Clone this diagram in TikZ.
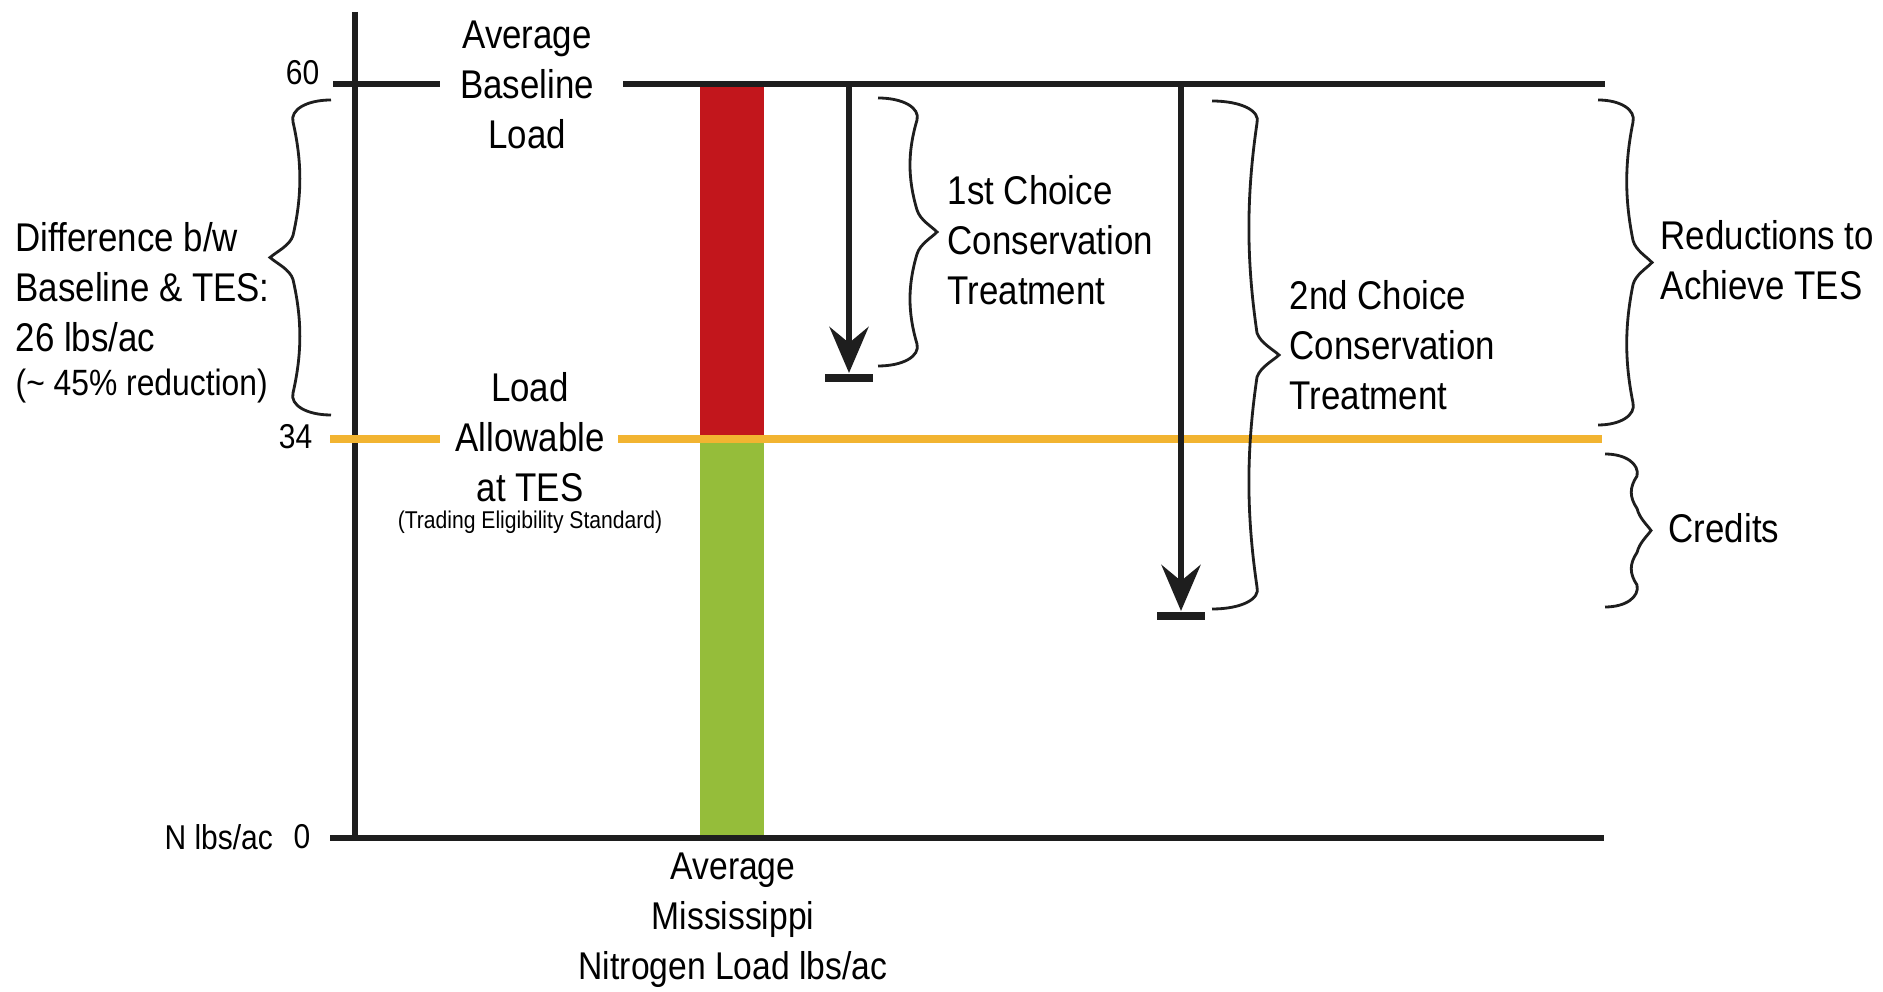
\documentclass[tikz,border=0pt]{standalone}
\usepackage{fontspec}
\setmainfont{Liberation Sans}[FakeStretch=0.87]
\usepackage{tikz}
\usetikzlibrary{arrows.meta,positioning,calc}
\definecolor{cInk}{HTML}{1E1E1E}
\definecolor{cLoad}{HTML}{C2161C}
\definecolor{cOk}{HTML}{95BD3A}
\definecolor{cTes}{HTML}{F2B431}
\tikzset{
  lbl/.style     = {font=\fontsize{11.4}{14.2}\selectfont, align=center, inner sep=0pt},
  side/.style    = {lbl, align=left, anchor=west},
  tick/.style    = {font=\fontsize{9.8}{12}\selectfont, inner sep=0pt, anchor=east},
  inkline/.style = {draw=cInk, line width=1.9pt},
  tesline/.style = {draw=cTes, line width=2.3pt},
  drop/.style    = {inkline, -{Stealth[length=4.6mm, width=3.9mm, inset=1.6mm]}},
  stopbar/.style = {draw=cInk, line width=2.3pt},
  brc/.style     = {draw=cInk, line width=0.8pt},
  % curly brace along a vertical span: #1 = bulge, #2 = tip offset
  vbrace/.style 2 args = {to path={
    ($(\tikztostart)!.5!(\tikztotarget)$) coordinate (bm)
    (\tikztotarget) coordinate (be)
    ($(\tikztostart)+(#1,22)$) coordinate (bp1)
    ($(bm)+(#1,-22)$) coordinate (bp3)
    ($(bm)+(#1,22)$) coordinate (bp4)
    ($(be)+(#1,-22)$) coordinate (bp6)
    ($(bm)+(#2,0)$) coordinate (btip)
    (\tikztostart) .. controls +({0.65*#1},0) and +({0.08*#1},-12) .. (bp1)
    .. controls ($(bp1)!.35!(bp3)+({-0.24*#1},0)$) and ($(bp3)!.35!(bp1)+({-0.24*#1},0)$) .. (bp3)
    .. controls +({0.08*#1},10) and +({-0.3*(#2-#1)},-6) .. (btip)
    .. controls +({-0.3*(#2-#1)},6) and +({0.08*#1},-10) .. (bp4)
    .. controls ($(bp4)!.35!(bp6)+({-0.24*#1},0)$) and ($(bp6)!.35!(bp4)+({-0.24*#1},0)$) .. (bp6)
    .. controls +({0.08*#1},12) and +({0.65*#1},0) .. (be)}},
}
\begin{document}
\begin{tikzpicture}[x=0.01cm, y=-0.01cm]
  \useasboundingbox (0,0) rectangle (1883,992);
  % the Mississippi load bar
  \fill[cLoad] (700,82) rectangle (764,439);
  \fill[cOk] (700,439) rectangle (764,838);
  % axes
  \draw[inkline, line width=1.7pt] (355,12) -- (355,838);
  \draw[inkline] (330,838) -- (1604,838);
  % baseline and TES levels
  \node[lbl] (base) at (527,85) {Average\\Baseline\\Load};
  \node[lbl] (tes) at (530,437) {Load\\Allowable\\at TES};
  \node[font=\fontsize{6.9}{8}\selectfont, inner sep=0pt] (tesnote) at (530,522)
    {(Trading Eligibility Standard)};
  \draw[inkline] (333,84) -- (440,84) (623,84) -- (1605,84);
  \draw[tesline] (330,439) -- (440,439) (618,439) -- (1602,439);
  % axis ticks
  \node[tick] (t60) at (320,73) {60};
  \node[tick] (t34) at (313,437) {34};
  \node[tick] (t0) at (311,837) {0};
  \node[tick, left=5.5pt of t0] (unit) {N lbs/ac};
  \node[lbl, font=\fontsize{11}{14.2}\selectfont] (barlbl) at (733,920)
    {Average\\Mississippi\\Nitrogen Load lbs/ac};
  % difference baseline to TES
  \coordinate (dtop) at (331,100);
  \coordinate (dbot) at (331,415);
  \draw[brc] (dtop) to[vbrace={-38}{-61}] (dbot);
  \node[side] (diff) at (15,287) {Difference b/w\\Baseline \& TES:\\26 lbs/ac};
  \node[side, font=\fontsize{10.4}{12}\selectfont] (pct) at (15,386)
    {(\textasciitilde{} 45\% reduction)};
  % treatment arrows
  \coordinate (a1) at (849,84);
  \coordinate (a1e) at (849,378);
  \coordinate (a2) at (1181,84);
  \coordinate (a2e) at (1181,616);
  \draw[drop] (a1) -- ($(a1e)+(0,-5)$);
  \draw[stopbar] ($(a1e)+(-24,0)$) -- ($(a1e)+(24,0)$);
  \draw[drop] (a2) -- ($(a2e)+(0,-5)$);
  \draw[stopbar] ($(a2e)+(-24,0)$) -- ($(a2e)+(24,0)$);
  % braces and their labels
  \coordinate (b1top) at (878,98);
  \coordinate (b1bot) at (878,366);
  \coordinate (b2top) at (1212,101);
  \coordinate (b2bot) at (1212,609);
  \coordinate (b3top) at (1598,100);
  \coordinate (b3bot) at (1598,425);
  \coordinate (b4top) at (1605,454);
  \coordinate (b4bot) at (1605,607);
  \draw[brc] (b1top) to[vbrace={39}{59}] (b1bot);
  \draw[brc] (b2top) to[vbrace={45}{67}] (b2bot);
  \draw[brc] (b3top) to[vbrace={35}{54}] (b3bot);
  \draw[brc] (b4top) to[vbrace={32}{46}] (b4bot);
  \node[side] (first) at (947,240) {1st Choice\\Conservation\\Treatment};
  \node[side] (second) at (1289,345) {2nd Choice\\Conservation\\Treatment};
  \node[side] (reduce) at (1660,260) {Reductions to\\Achieve TES};
  \node[side] (credit) at (1668,528) {Credits};
\end{tikzpicture}
\end{document}
